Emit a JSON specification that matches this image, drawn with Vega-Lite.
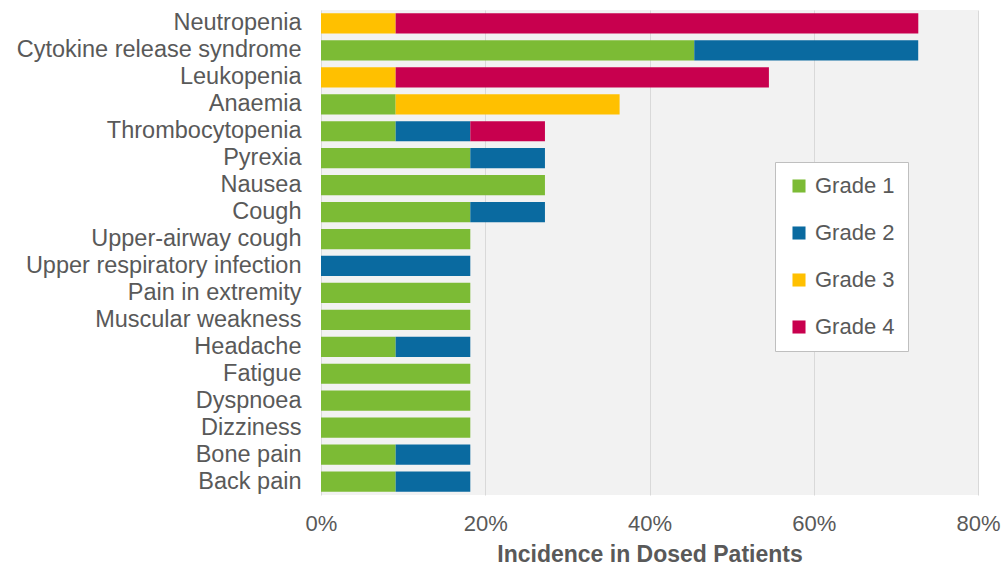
{
  "$schema": "https://vega.github.io/schema/vega-lite/v6.json",
  "autosize": {"type": "none"},
  "width": 657,
  "height": 485,
  "padding": {"left": 321, "top": 10, "right": 25, "bottom": 70},
  "background": "white",
  "config": {
    "view": {"fill": "#f2f2f2", "stroke": null},
    "font": "Liberation Sans"
  },
  "data": {
    "values": [
      {"ae": "Neutropenia", "grade": "Grade 3", "o": 3, "v": 0.0909},
      {"ae": "Neutropenia", "grade": "Grade 4", "o": 4, "v": 0.6364},
      {"ae": "Cytokine release syndrome", "grade": "Grade 1", "o": 1, "v": 0.4545},
      {"ae": "Cytokine release syndrome", "grade": "Grade 2", "o": 2, "v": 0.2727},
      {"ae": "Leukopenia", "grade": "Grade 3", "o": 3, "v": 0.0909},
      {"ae": "Leukopenia", "grade": "Grade 4", "o": 4, "v": 0.4545},
      {"ae": "Anaemia", "grade": "Grade 1", "o": 1, "v": 0.0909},
      {"ae": "Anaemia", "grade": "Grade 3", "o": 3, "v": 0.2727},
      {"ae": "Thrombocytopenia", "grade": "Grade 1", "o": 1, "v": 0.0909},
      {"ae": "Thrombocytopenia", "grade": "Grade 2", "o": 2, "v": 0.0909},
      {"ae": "Thrombocytopenia", "grade": "Grade 4", "o": 4, "v": 0.0909},
      {"ae": "Pyrexia", "grade": "Grade 1", "o": 1, "v": 0.1818},
      {"ae": "Pyrexia", "grade": "Grade 2", "o": 2, "v": 0.0909},
      {"ae": "Nausea", "grade": "Grade 1", "o": 1, "v": 0.2727},
      {"ae": "Cough", "grade": "Grade 1", "o": 1, "v": 0.1818},
      {"ae": "Cough", "grade": "Grade 2", "o": 2, "v": 0.0909},
      {"ae": "Upper-airway cough ", "grade": "Grade 1", "o": 1, "v": 0.1818},
      {"ae": "Upper respiratory  infection", "grade": "Grade 2", "o": 2, "v": 0.1818},
      {"ae": "Pain in extremity", "grade": "Grade 1", "o": 1, "v": 0.1818},
      {"ae": "Muscular weakness", "grade": "Grade 1", "o": 1, "v": 0.1818},
      {"ae": "Headache", "grade": "Grade 1", "o": 1, "v": 0.0909},
      {"ae": "Headache", "grade": "Grade 2", "o": 2, "v": 0.0909},
      {"ae": "Fatigue", "grade": "Grade 1", "o": 1, "v": 0.1818},
      {"ae": "Dyspnoea", "grade": "Grade 1", "o": 1, "v": 0.1818},
      {"ae": "Dizziness", "grade": "Grade 1", "o": 1, "v": 0.1818},
      {"ae": "Bone pain", "grade": "Grade 1", "o": 1, "v": 0.0909},
      {"ae": "Bone pain", "grade": "Grade 2", "o": 2, "v": 0.0909},
      {"ae": "Back pain", "grade": "Grade 1", "o": 1, "v": 0.0909},
      {"ae": "Back pain", "grade": "Grade 2", "o": 2, "v": 0.0909}
    ]
  },
  "mark": {"type": "bar"},
  "encoding": {
    "y": {
      "field": "ae",
      "type": "nominal",
      "sort": null,
      "scale": {"paddingInner": 0.25, "paddingOuter": 0.125},
      "axis": {
        "title": null,
        "domain": false,
        "ticks": false,
        "labelFontSize": 23.5,
        "labelColor": "#595959",
        "labelPadding": 20,
        "labelLimit": 400
      }
    },
    "x": {
      "field": "v",
      "type": "quantitative",
      "stack": "zero",
      "scale": {"domain": [0, 0.8], "nice": false},
      "axis": {
        "title": "Incidence in Dosed Patients",
        "titleFontSize": 23,
        "titleFontWeight": "bold",
        "titleColor": "#595959",
        "titlePadding": 9,
        "format": ".0%",
        "values": [0, 0.2, 0.4, 0.6, 0.8],
        "domain": false,
        "ticks": false,
        "labelFontSize": 22,
        "labelColor": "#595959",
        "labelPadding": 18,
        "labelFlush": false,
        "gridColor": "#d9d9d9",
        "gridWidth": 1
      }
    },
    "color": {
      "field": "grade",
      "type": "nominal",
      "scale": {
        "domain": ["Grade 1", "Grade 2", "Grade 3", "Grade 4"],
        "range": ["#7cbb35", "#0a6aa0", "#ffc000", "#c8004e"]
      },
      "legend": {
        "title": null,
        "orient": "none",
        "legendX": 454,
        "legendY": 152,
        "fillColor": "white",
        "strokeColor": "#bfbfbf",
        "padding": 13,
        "symbolType": "square",
        "symbolSize": 170,
        "symbolStrokeWidth": 0,
        "labelFontSize": 22,
        "labelColor": "#595959",
        "rowPadding": 25,
        "labelOffset": 5
      }
    },
    "order": {"field": "o", "type": "quantitative"}
  }
}
